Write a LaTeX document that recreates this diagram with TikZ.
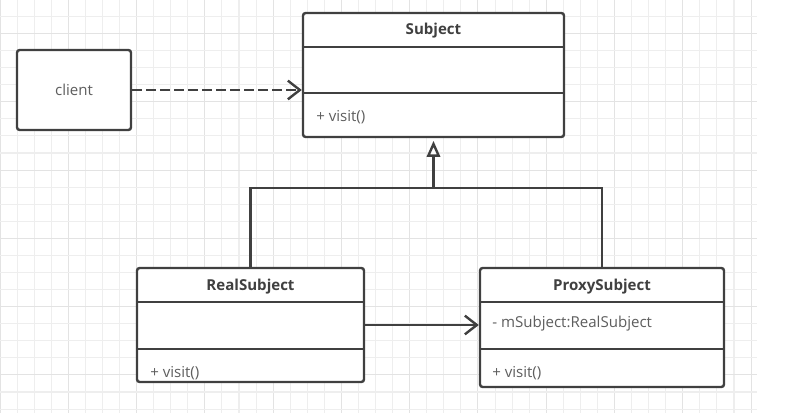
\documentclass[tikz,border=0pt]{standalone}
\usepackage{fontspec}
\setmainfont{Open Sans}
\usetikzlibrary{arrows.meta, calc, positioning}

\definecolor{umlline}{HTML}{404040}
\definecolor{umltext}{HTML}{5E5E5E}
\definecolor{gridminor}{HTML}{EEEEEE}
\definecolor{gridmajor}{HTML}{E3E3E3}

\begin{document}
\begin{tikzpicture}[
  x = 0.75pt, y = -0.75pt,
  umlbox/.style={draw=umlline, line width=1.8pt, fill=white, rounded corners=2pt, inner sep=0pt},
  divider/.style={draw=umlline, line width=1.8pt},
  title/.style={font=\fontsize{11.3}{13}\selectfont\bfseries, text=umlline},
  member/.style={font=\fontsize{11.3}{13}\selectfont, text=umltext, anchor=west, inner sep=0pt},
  depend/.style={draw=umlline, line width=1.8pt, dash pattern=on 7pt off 3.5pt, -{Straight Barb[length=9pt, width=14pt]}},
  assoc/.style={draw=umlline, line width=1.8pt, -{Straight Barb[length=9pt, width=14pt]}},
  inherit/.style={draw=umlline, line width=1.8pt, -{Triangle[open, length=12pt, width=10pt, fill=white]}},
  branch/.style={draw=umlline, line width=1.8pt}
]
%general params
\def\gs{17.07} %grid step
\useasboundingbox[fill=white] (0,0) rectangle (803,413);

%grid
\foreach \i in {0,...,44}{
  \pgfmathtruncatemacro{\m}{mod(\i,4)}
  \ifnum\m=0 \draw[gridmajor, line width=0.8pt] (\i*\gs,0) -- (\i*\gs,413);
  \else \draw[gridminor, line width=0.8pt] (\i*\gs,0) -- (\i*\gs,413); \fi
}
\foreach \j in {-1,...,22}{
  \pgfmathtruncatemacro{\m}{mod(\j+4,4)}
  \ifnum\m=0 \draw[gridmajor, line width=0.8pt] (0,33.5+\j*\gs) -- (757,33.5+\j*\gs);
  \else \draw[gridminor, line width=0.8pt] (0,33.5+\j*\gs) -- (757,33.5+\j*\gs); \fi
}

%classes
\node[umlbox, minimum width=85.5pt, minimum height=60pt] (client) at (74,90) {};
\node[member, anchor=center] (clientname) at (client.center) {client};

\node[umlbox, minimum width=195.75pt, minimum height=93pt] (subject) at (433.5,75) {};
\node[title] (subjectname) at (433.5,31) {Subject};
\draw[divider] (subject.west |- 0,47) -- (subject.east |- 0,47);
\draw[divider] (subject.west |- 0,93) -- (subject.east |- 0,93);
\node[member] (subjectvisit) at (316,117) {+ visit()};

\node[umlbox, minimum width=170.25pt, minimum height=85.5pt] (real) at (250.5,325) {};
\node[title] (realname) at (250.5,287) {RealSubject};
\draw[divider] (real.west |- 0,302) -- (real.east |- 0,302);
\draw[divider] (real.west |- 0,349) -- (real.east |- 0,349);
\node[member] (realvisit) at (150,373) {+ visit()};

\node[umlbox, minimum width=183pt, minimum height=89.25pt] (proxy) at (602,327.5) {};
\node[title] (proxyname) at (602,287) {ProxySubject};
\draw[divider] (proxy.west |- 0,302) -- (proxy.east |- 0,302);
\draw[divider] (proxy.west |- 0,349) -- (proxy.east |- 0,349);
\node[member] (proxyfield) at (492,324) {- mSubject:RealSubject};
\node[member] (proxyvisit) at (492,373) {+ visit()};

%relations
\coordinate (bus) at (433.5,188);
\draw[depend] (client.east) -- (client.east -| subject.west);
\draw[branch] (real.north) |- (bus) -| (proxy.north);
\draw[inherit, shorten >=2pt] (bus) -- (subject.south);
\draw[assoc] (real.east) -- (real.east -| proxy.west);

\end{tikzpicture}
\end{document}
